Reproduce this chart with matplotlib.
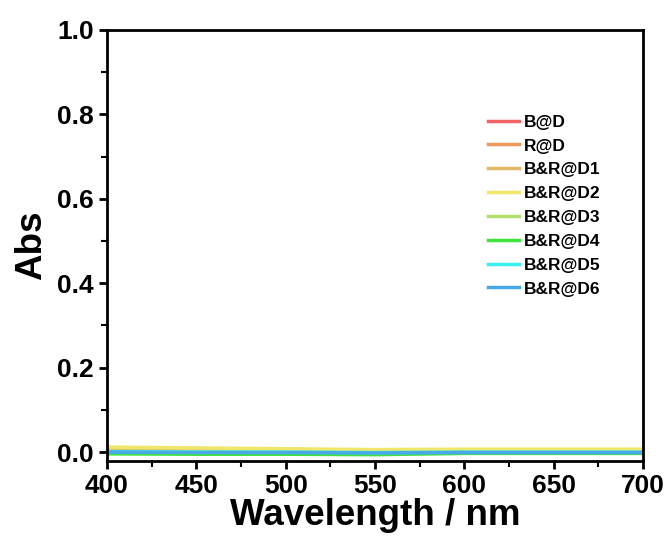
import numpy as np
import matplotlib.pyplot as plt
from matplotlib.ticker import MultipleLocator

plt.rcParams['font.family'] = ['Liberation Sans', 'DejaVu Sans']
plt.rcParams['font.weight'] = 'bold'

# wavelength grid (nm)
wl = [400, 450, 500, 550, 600, 650, 700]

labels = ['B@D', 'R@D', 'B&R@D1', 'B&R@D2', 'B&R@D3', 'B&R@D4', 'B&R@D5', 'B&R@D6']
colors = ['#f26466', '#eb9a5c', '#e2b866', '#f0e66a', '#b2e06a', '#3ee33e', '#3af0f2', '#48a8e8']

abs_bd  = [0.004, 0.003, 0.002, 0.001, 0.001, 0.001, 0.001]
abs_rd  = [0.006, 0.005, 0.004, 0.003, 0.003, 0.003, 0.003]
abs_d1  = [0.009, 0.008, 0.006, 0.005, 0.005, 0.005, 0.005]
abs_d2  = [0.012, 0.010, 0.008, 0.006, 0.007, 0.007, 0.007]
abs_d3  = [0.002, 0.001, 0.000, -0.001, 0.000, 0.000, 0.000]
abs_d4  = [-0.004, -0.005, -0.005, -0.006, -0.003, -0.003, -0.003]
abs_d5  = [0.001, 0.000, 0.000, -0.001, 0.000, 0.000, 0.000]
abs_d6  = [0.000, -0.001, -0.001, -0.002, -0.001, -0.001, -0.001]
series = [abs_bd, abs_rd, abs_d1, abs_d2, abs_d3, abs_d4, abs_d5, abs_d6]

fig = plt.figure(figsize=(6.72, 5.44), dpi=100)
ax = fig.add_axes([107/672, 1 - 461/544, (643 - 107)/672, (461 - 30)/544])

for y, c, lab in zip(series, colors, labels):
    ax.plot(wl, y, color=c, lw=2.5, label=lab)

ax.set_xlim(400, 700)
ax.set_ylim(-0.021, 1.0)
ax.xaxis.set_major_locator(MultipleLocator(50))
ax.xaxis.set_minor_locator(MultipleLocator(25))
ax.yaxis.set_major_locator(MultipleLocator(0.2))
ax.yaxis.set_minor_locator(MultipleLocator(0.1))
ax.tick_params(which='major', direction='out', length=6, width=2, labelsize=19)
ax.tick_params(which='minor', direction='out', length=4, width=1.5)
for s in ax.spines.values():
    s.set_linewidth(2)
for t in ax.get_xticklabels() + ax.get_yticklabels():
    t.set_fontweight('bold')

ax.set_xlabel('Wavelength / nm', fontsize=26.5, fontweight='bold', labelpad=0)
ax.set_ylabel('Abs', fontsize=26.5, fontweight='bold', labelpad=6)

ax.legend(loc='upper left', bbox_to_anchor=(0.682, 0.84), frameon=False,
          prop={'size': 12.5, 'weight': 'bold'}, handlelength=1.75,
          handletextpad=0.3, labelspacing=0.5)

fig.savefig('out.png', dpi=100)
